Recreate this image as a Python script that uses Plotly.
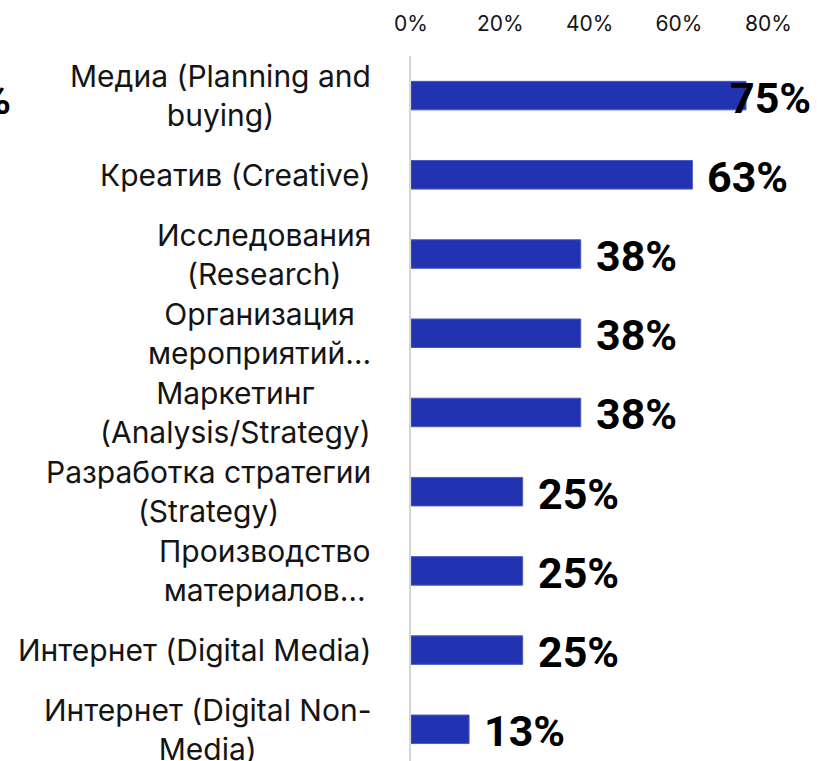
import plotly.graph_objects as go

# Service categories (Russian with English in brackets) and share of respondents
categories = [
    "Медиа (Planning and<br>buying)",
    "Креатив (Creative)",
    "Исследования<br>(Research)",
    "Организация<br>мероприятий…",
    "Маркетинг<br>(Analysis/Strategy)",
    "Разработка стратегии<br>(Strategy)",
    "Производство<br>материалов…",
    "Интернет (Digital Media)",
    "Интернет (Digital Non-<br>Media)",
]
shares = [0.75, 0.63, 0.38, 0.38, 0.38, 0.25, 0.25, 0.25, 0.13]
value_labels = ["75%", "63%", "38%", "38%", "38%", "25%", "25%", "25%", "13%"]
x_ticks = [0, 0.2, 0.4, 0.6, 0.8]
x_tick_labels = ["0%", "20%", "40%", "60%", "80%"]

BAR_COLOR = "#2233b1"
TEXT_COLOR = "#141414"
LABEL_FONT = "Inter"
VALUE_FONT = "Roboto"
X_MAX = 0.9

fig = go.Figure(
    go.Bar(
        x=shares,
        y=categories,
        orientation="h",
        marker=dict(color=BAR_COLOR, line=dict(color="#4a58c4", width=1)),
        hoverinfo="skip",
    )
)

annotations = []
# Category labels: centred multi-line text, right-aligned against the axis
for cat in categories:
    annotations.append(dict(
        x=0, xref="paper", y=cat, yref="y",
        text=cat, showarrow=False, xanchor="right", yanchor="middle",
        align="center", xshift=-38,
        font=dict(family=LABEL_FONT, size=30, color=TEXT_COLOR),
    ))

value_font = dict(family=VALUE_FONT, size=43, color="#000000")

# Value labels just past the bar end; kept inside the plot on the right
for cat, val, lab in zip(categories, shares, value_labels):
    if val > 0.67:
        annotations.append(dict(
            x=1, xref="paper", y=cat, yref="y", text=f"<b>{lab}</b>",
            showarrow=False, xanchor="right", yanchor="middle", yshift=-2,
            font=value_font,
        ))
        # wrapped copy of the top label, cut off at the left page edge
        annotations.append(dict(
            x=-0.99, xref="paper", y=cat, yref="y", text=f"<b>{lab}</b>",
            showarrow=False, xanchor="right", yanchor="middle", yshift=-3,
            font=value_font,
        ))
    else:
        annotations.append(dict(
            x=val, xref="x", y=cat, yref="y", text=f"<b>{lab}</b>",
            showarrow=False, xanchor="left", yanchor="middle", xshift=13, yshift=-2,
            font=value_font,
        ))

fig.update_layout(
    width=817, height=761,
    margin=dict(l=411, r=4, t=56, b=0),
    paper_bgcolor="white", plot_bgcolor="white",
    bargap=0.64,
    showlegend=False,
    annotations=annotations,
    xaxis=dict(
        side="top", range=[0, X_MAX],
        tickvals=x_ticks, ticktext=x_tick_labels,
        showgrid=False, zeroline=False, showline=False, ticks="",
        ticklabelstandoff=20,
        tickfont=dict(family=LABEL_FONT, size=21, color=TEXT_COLOR),
    ),
    yaxis=dict(
        categoryorder="array", categoryarray=categories,
        range=[8.4, -0.5],
        showticklabels=False, showgrid=False, zeroline=False,
        showline=True, linecolor="#d4d4d4", linewidth=2, ticks="",
    ),
)

fig.write_html("out.html")
